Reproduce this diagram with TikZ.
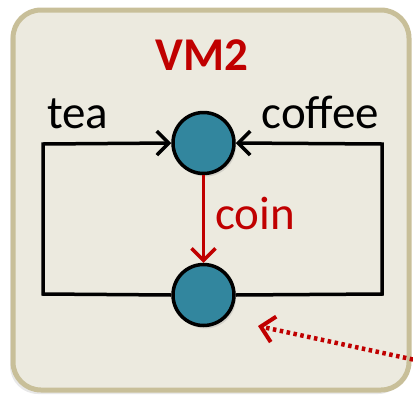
\documentclass[tikz,border=0pt]{standalone}
\usepackage{fontspec}
\setmainfont{Carlito}
\usetikzlibrary{arrows.meta,shadows}
\definecolor{panelfill}{HTML}{ECEADF}
\definecolor{panelrim}{HTML}{C8BF99}
\definecolor{statefill}{HTML}{32869E}
\definecolor{accent}{HTML}{C00000}
\tikzset{
  panel/.style={draw=panelrim, line width=5pt, fill=panelfill, rounded corners=28pt,
    drop shadow={shadow xshift=-3pt, shadow yshift=-4pt, opacity=0.18}},
  state/.style={circle, draw=black, line width=3.5pt, fill=statefill,
    minimum size=61pt, inner sep=0pt,
    drop shadow={shadow xshift=2pt, shadow yshift=-3pt, opacity=0.22}},
  loop/.style={draw=black, line width=3.5pt, line join=miter},
  barb/.style={-{Straight Barb[length=12pt, width=24pt, line width=3.5pt]}},
  label/.style={font=\fontsize{47}{47}\selectfont, inner sep=0pt},
  hint/.style={draw=accent, line width=4.5pt, dash pattern=on 3.5pt off 3.5pt,
    -{Straight Barb[length=13pt, width=26pt, line width=4pt]}}
}
\begin{document}
\begin{tikzpicture}[x=1pt, y=-1pt]
  \useasboundingbox (0,0) rectangle (413,397);
  % outer panel
  \path[panel] (13,10) rectangle (409,390);

  % states
  \node[state] (upper) at (203.5,143) {};
  \node[state] (lower) at (203.5,295) {};

  % corners of the two return loops
  \coordinate (lb) at (43,294);
  \coordinate (lt) at (43,144);
  \coordinate (rb) at (382,294);
  \coordinate (rt) at (382,144);

  \draw[loop, barb] (lower.west) -- (lb) -- (lt) -- (upper.west);
  \draw[loop, barb] (lower.east) -- (rb) -- (rt) -- (upper.east);
  \draw[draw=accent, line width=3.5pt, barb] (upper.south) -- (lower.north);

  % labels
  \node[label, text=accent, font=\fontsize{47}{47}\selectfont\bfseries] (title) at (202,55) {VM2};
  \node[label, anchor=base west] (tea) at (47,128) {tea};
  \node[label, anchor=base east] (coffee) at (379,128) {coffee};
  \node[label, text=accent, anchor=west] (coin) at (215,213) {coin};

  % pointer from outside
  \coordinate (src) at (420,361);
  \coordinate (dst) at (258,326);
  \draw[hint] (src) -- (dst);
\end{tikzpicture}
\end{document}
